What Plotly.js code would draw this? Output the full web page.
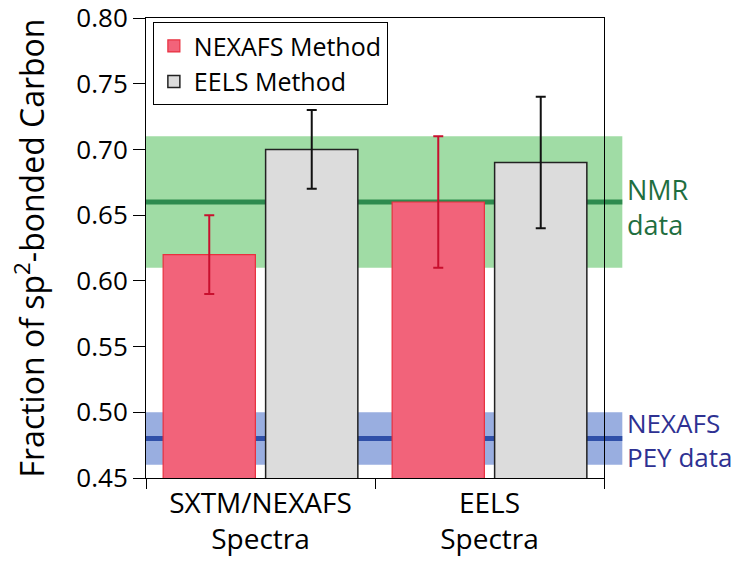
<!DOCTYPE html>
<html>
<head>
<meta charset="utf-8">
<script src="https://cdn.plot.ly/plotly-3.0.1.min.js"></script>
<style>html,body{margin:0;padding:0;background:#fff;}#chart{width:741px;height:562px;}</style>
</head>
<body>
<div id="chart"></div>
<script>
var categories = ["SXTM/NEXAFS<br>Spectra", "EELS<br>Spectra"];
var nexafsValues = [0.62, 0.66];
var nexafsErrors = [0.03, 0.05];
var eelsValues = [0.70, 0.69];
var eelsErrors = [0.03, 0.05];
var nmrValue = 0.66, nmrError = 0.05;
var peyValue = 0.48, peyError = 0.02;
var yTickValues = [0.45, 0.50, 0.55, 0.60, 0.65, 0.70, 0.75, 0.80];
var yTickLabels = ["0.45", "0.50", "0.55", "0.60", "0.65", "0.70", "0.75", "0.80"];

var font = "'Open Sans', 'Noto Sans', sans-serif";

var traces = [
  {
    type: "bar", name: "NEXAFS Method", x: categories, y: nexafsValues,
    marker: {color: "#f2637a", line: {color: "#e8303f", width: 1.2}},
    error_y: {type: "data", array: nexafsErrors, visible: true, color: "#c8102e", thickness: 2, width: 5}
  },
  {
    type: "bar", name: "EELS Method", x: categories, y: eelsValues,
    marker: {color: "#dcdcdc", line: {color: "#222222", width: 1.5}},
    error_y: {type: "data", array: eelsErrors, visible: true, color: "#111111", thickness: 2, width: 5}
  }
];

var bandRight = 1.04;
var shapes = [
  {type: "rect", xref: "paper", yref: "y", x0: 0, x1: bandRight, y0: nmrValue - nmrError, y1: nmrValue + nmrError,
   fillcolor: "#a0dca5", line: {width: 0}, layer: "below"},
  {type: "line", xref: "paper", yref: "y", x0: 0, x1: bandRight, y0: nmrValue, y1: nmrValue,
   line: {color: "#2e8b4f", width: 5}, layer: "below"},
  {type: "rect", xref: "paper", yref: "y", x0: 0, x1: bandRight, y0: peyValue - peyError, y1: peyValue + peyError,
   fillcolor: "#99aee0", line: {width: 0}, layer: "below"},
  {type: "line", xref: "paper", yref: "y", x0: 0, x1: bandRight, y0: peyValue, y1: peyValue,
   line: {color: "#2f4fa8", width: 5}, layer: "below"}
];

var annotations = [
  {xref: "paper", yref: "y", x: 1.045, y: nmrValue - 0.004, xanchor: "left", yanchor: "middle", align: "left",
   text: "NMR<br>data", showarrow: false, font: {family: font, size: 27, color: "#1f6e3f"}},
  {xref: "paper", yref: "y", x: 1.045, y: peyValue - 0.001, xanchor: "left", yanchor: "middle", align: "left",
   text: "NEXAFS<br>PEY data", showarrow: false, font: {family: font, size: 26, color: "#2e3192"}}
];

var layout = {
  width: 741, height: 562,
  margin: {l: 146, r: 137, t: 18, b: 84},
  paper_bgcolor: "#ffffff", plot_bgcolor: "rgba(0,0,0,0)",
  font: {family: font, size: 24, color: "#000"},
  barmode: "group", bargap: 0.105, bargroupgap: 0.1,
  showlegend: true,
  legend: {x: 0.015, y: 0.991, xanchor: "left", yanchor: "top", bordercolor: "#000", borderwidth: 1,
           bgcolor: "#ffffff", font: {family: font, size: 25, color: "#000"}},
  xaxis: {type: "category", range: [-0.5, 1.5], tickson: "boundaries", ticks: "outside", ticklen: 10,
          tickcolor: "#000", showline: true, linecolor: "#000", linewidth: 1, mirror: true,
          showgrid: false, zeroline: false, tickfont: {family: font, size: 28, color: "#000"}},
  yaxis: {range: [0.45, 0.80], tickmode: "array", tickvals: yTickValues, ticktext: yTickLabels,
          ticks: "outside", ticklen: 12, ticklabeloverflow: "allow",
          tickcolor: "#000", showline: true, linecolor: "#000", linewidth: 1, mirror: true,
          showgrid: false, zeroline: false, tickfont: {family: font, size: 26, color: "#000"},
          title: {text: "Fraction of sp<sup>2</sup>-bonded Carbon", font: {family: font, size: 32, color: "#000"}, standoff: 22}},
  shapes: shapes,
  annotations: annotations
};

Plotly.newPlot("chart", traces, layout, {displayModeBar: false, staticPlot: true});
</script>
</body>
</html>
